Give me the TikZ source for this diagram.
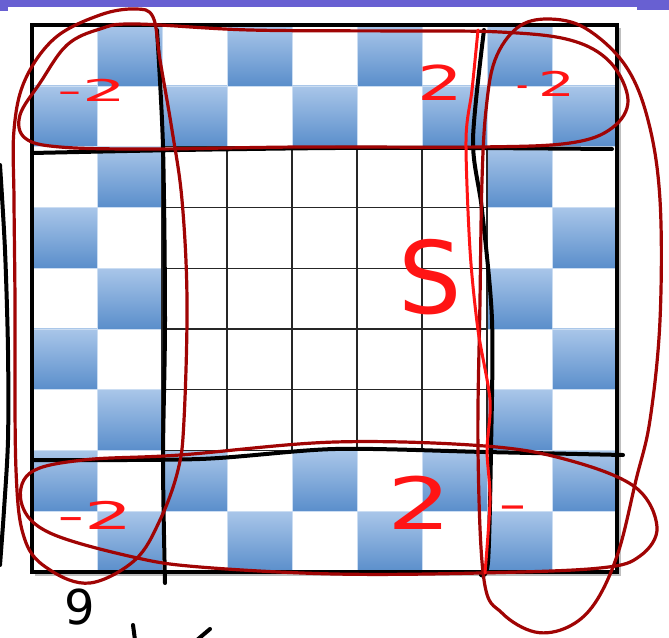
\documentclass[tikz,border=0pt]{standalone}
\usepackage{fontspec}
\usepackage{graphicx}
\usepackage{tikz}
\usetikzlibrary{positioning}
\usepackage{xcolor}
\newfontfamily\handfont{DejaVu Sans}
\definecolor{CellBlueTop}{HTML}{A9C6E9}
\definecolor{CellBlueBot}{HTML}{5A8ECB}
\definecolor{InkRed}{HTML}{A00404}
\definecolor{PenRed}{HTML}{FF1414}
\definecolor{BarPurple}{HTML}{6860D2}

\begin{document}
\begin{tikzpicture}[x=1pt, y=-1pt,
    bluecell/.style={top color=CellBlueTop, bottom color=CellBlueBot, draw=CellBlueTop!60!white, line width=0.5pt},
    gridline/.style={draw=black!85, line width=1.2pt},
    inkloop/.style={draw=InkRed, line width=3.2pt, line cap=round, line join=round},
    penline/.style={draw=PenRed, line width=3pt, line cap=round, line join=round},
    handline/.style={draw=black, line width=4pt, line cap=round, line join=round},
    penmark/.style={text=PenRed, inner sep=0pt, font=\handfont}]
    \useasboundingbox (0,0) rectangle (669,637);
    \fill[white] (0,0) rectangle (669,637);
    % top bar
    \fill[BarPurple] (0,0) rectangle (669,7);
    \fill[BarPurple] (0,0) rectangle (8,11);
    \fill[BarPurple] (637,0) rectangle (669,10);

    % board
    \fill[black!25] (35,28) rectangle (621,576);
    \fill[white] (32,25) rectangle (617,572);
    \foreach \i in {0,...,8}{
      \foreach \j in {0,...,8}{
        \pgfmathtruncatemacro{\inner}{and(and(\i>1,\i<7),and(\j>1,\j<7))}
        \pgfmathtruncatemacro{\odd}{mod(\i+\j,2)}
        \ifnum\inner=0 \ifnum\odd=1
          \path[bluecell] (32+65*\i,25+60.78*\j) rectangle ++(65,60.78);
        \fi\fi
      }
    }
    \foreach \k in {2,...,7}{
      \draw[gridline] (32+65*\k,146.6) -- (32+65*\k,450.5);
      \draw[gridline] (162,25+60.78*\k) -- (487,25+60.78*\k);
    }
    \draw[line width=3.5pt] (32,25) rectangle (617,572);

    % black pen
    \draw[handline] plot[smooth] coordinates {(157,30) (163,147) (165,320) (163,460) (165,583)};
    \draw[handline] plot[smooth] coordinates {(32,153) (180,150) (335,148) (470,148) (612,149)};
    \draw[handline] plot[smooth] coordinates {(484,30) (473,140) (482,210) (492,320) (491,450) (488,562) (481,575)};
    \draw[handline] plot[smooth] coordinates {(33,460) (200,459) (335,449) (485,452) (623,455)};
    \draw[handline] plot[smooth] coordinates {(0,165) (5,250) (8,350) (8,440) (4,510) (0,565)};
    \draw[handline] (133,625) -- (135,640);
    \draw[handline] (197,640) -- (210,629);

    % loops
    \draw[inkloop] plot[smooth cycle, tension=0.6] coordinates {(150,149) (60,147) (25,138) (20,115) (40,83) (67,45) (100,29) (135,24) (250,30) (400,31) (500,32) (570,40) (610,62) (628,100) (612,128) (570,143) (480,147) (300,147)};
    \draw[inkloop] plot[smooth cycle, tension=0.6] coordinates {(15,300) (14,200) (14,130) (25,80) (55,38) (100,15) (135,9) (153,17) (160,60) (172,130) (182,200) (187,300) (184,420) (178,470) (160,520) (135,560) (90,583) (50,570) (25,540) (16,470)};
    \draw[inkloop] plot[smooth cycle, tension=0.6] coordinates {(83,460) (180,455) (335,442) (485,446) (568,460) (635,487) (657,527) (640,556) (600,568) (480,573) (335,574) (200,567) (133,557) (50,533) (22,505) (30,473)};
    \draw[inkloop] plot[smooth cycle, tension=0.6] coordinates {(480,300) (482,180) (486,110) (495,60) (517,28) (547,19) (585,28) (625,65) (648,120) (660,200) (660,320) (650,420) (636,480) (618,553) (595,603) (568,627) (535,632) (502,613) (484,580) (478,450)};

    % red pen
    \draw[penline] plot[smooth] coordinates {(478,30) (472,90) (466,140) (470,250) (478,330) (490,400) (487,450) (490,500) (485,573)};
    \node[penmark] (minusTL) at (92,90) {\fontsize{30}{30}\selectfont\scalebox{2.3}[1]{-2}};
    \node[penmark] (twoTop) at (440,83) {\fontsize{48}{48}\selectfont\scalebox{1.5}[1]{2}};
    \node[penmark] (minusTR) at (546,84) {\fontsize{34}{34}\selectfont -\hspace{10pt}\scalebox{1.7}[1]{2}};
    \node[penmark] (bigS) at (430,277) {\fontsize{100}{100}\selectfont S};
    \node[penmark] (twoBot) at (420,503) {\fontsize{72}{72}\selectfont\scalebox{1.4}[1]{2}};
    \node[penmark] (dashBR) at (513,512) {\fontsize{40}{40}\selectfont\scalebox{2}[1]{-}};
    \node[penmark] (minusBL) at (95,515) {\fontsize{38}{38}\selectfont\scalebox{2}[1]{-2}};
    \node[inner sep=0pt, font=\handfont] (nineLbl) at (80,607) {\fontsize{48}{48}\selectfont 9};
\end{tikzpicture}
\end{document}
